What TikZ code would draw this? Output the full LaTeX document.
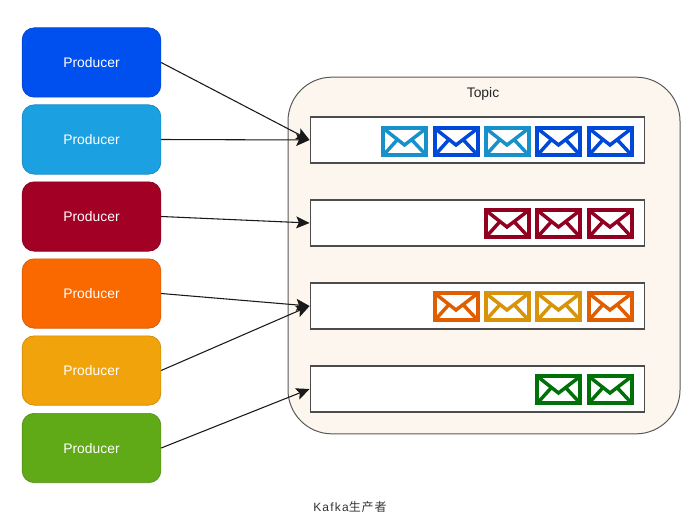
\documentclass[tikz,border=0pt]{standalone}
\usepackage{fontspec}
\setmainfont{Liberation Sans}
\newfontfamily\cjk{Noto Sans CJK SC}[LetterSpace=8]
\newfontfamily\capfont{Liberation Sans}[LetterSpace=10]
\usetikzlibrary{arrows.meta}
\definecolor{mailblue}{RGB}{0,80,239}
\definecolor{mailcyan}{RGB}{27,161,226}
\definecolor{mailred}{RGB}{162,0,37}
\definecolor{mailorange}{RGB}{250,104,0}
\definecolor{mailamber}{RGB}{240,163,10}
\definecolor{mailgreen}{RGB}{96,169,23}
\definecolor{maildark}{RGB}{0,125,10}
\definecolor{topicfill}{RGB}{252,246,239}
\tikzset{
  producer/.style={
    rounded corners=9pt,
    minimum width=104pt,
    minimum height=52pt,
    inner sep=0pt,
    line width=0.5pt,
    draw=#1!85!black,
    fill=#1,
    text=white,
    text depth=-0.8pt,
    font=\fontsize{10.4}{12}\selectfont
  },
  partition/.style={
    draw=black!70,
    fill=white,
    line width=0.9pt,
    minimum width=251pt,
    minimum height=34.5pt,
    inner sep=0pt
  },
  send/.style={
    draw=black!90,
    line width=0.8pt,
    -{Stealth[length=10pt,width=9pt,inset=2pt]}
  },
  mail/.style={line width=2.8pt,miter limit=2},
  mailfold/.style={line width=2.6pt}
}
% x, y of the top left corner, colour
\newcommand{\mailicon}[3]{
  \begin{scope}[shift={(#1,#2)}]
    \draw[mail,#3!90!black] (1.8,1.8) rectangle (44.7,28.7);
    \draw[mailfold,#3!90!black] (2,2) -- (23,18.5) -- (44.5,2);
    \draw[mailfold,#3!90!black] (2,28.5) -- (16,13);
    \draw[mailfold,#3!90!black] (44.5,28.5) -- (30,13);
  \end{scope}
}
\begin{document}
\begin{tikzpicture}[x=0.75pt,y=-0.75pt]
  \useasboundingbox (0,0) rectangle (698,524);
  % Producers
  \node[producer=mailblue] (p1) at (91.5,62.5) {Producer};
  \node[producer=mailcyan] (p2) at (91.5,139.5) {Producer};
  \node[producer=mailred] (p3) at (91.5,216.5) {Producer};
  \node[producer=mailorange] (p4) at (91.5,293.5) {Producer};
  \node[producer=mailamber] (p5) at (91.5,370.5) {Producer};
  \node[producer=mailgreen] (p6) at (91.5,448) {Producer};
  % Topic
  \node[draw=black!65,fill=topicfill,line width=0.75pt,rounded corners=33pt,
    minimum width=294pt,minimum height=267.5pt,inner sep=0pt] (topic) at (484,255.5) {};
  \node[font=\fontsize{10.4}{12}\selectfont,text=black!85] (topiclabel) at (483,93.5) {Topic};
  % Partitions
  \node[partition] (r1) at (477.5,140) {};
  \node[partition] (r2) at (477.5,223) {};
  \node[partition] (r3) at (477.5,306) {};
  \node[partition] (r4) at (477.5,389) {};
  % Messages
  \mailicon{381.5}{126.5}{mailcyan}
  \mailicon{433}{126.5}{mailblue}
  \mailicon{484}{126.5}{mailcyan}
  \mailicon{535.5}{126.5}{mailblue}
  \mailicon{587}{126.5}{mailblue}
  \mailicon{484}{208.5}{mailred}
  \mailicon{535.5}{208.5}{mailred}
  \mailicon{587}{208.5}{mailred}
  \mailicon{433}{291.5}{mailorange}
  \mailicon{484}{291.5}{mailamber}
  \mailicon{535.5}{291.5}{mailamber}
  \mailicon{587}{291.5}{mailorange}
  \mailicon{535.5}{374.5}{maildark}
  \mailicon{587}{374.5}{maildark}
  % Arrows
  \draw[send] (p1.east) -- (r1.west);
  \draw[send] (p2.east) -- (r1.west);
  \draw[send] (p3.east) -- (r2.west);
  \draw[send] (p4.east) -- (r3.west);
  \draw[send] (p5.east) -- (r3.west);
  \draw[send] (p6.east) -- (r4.west);
  % Caption
  \node[font=\fontsize{9}{11}\selectfont,text=black!80] (caption) at (350,507) {\capfont Kafka\cjk 生产者};
\end{tikzpicture}
\end{document}
